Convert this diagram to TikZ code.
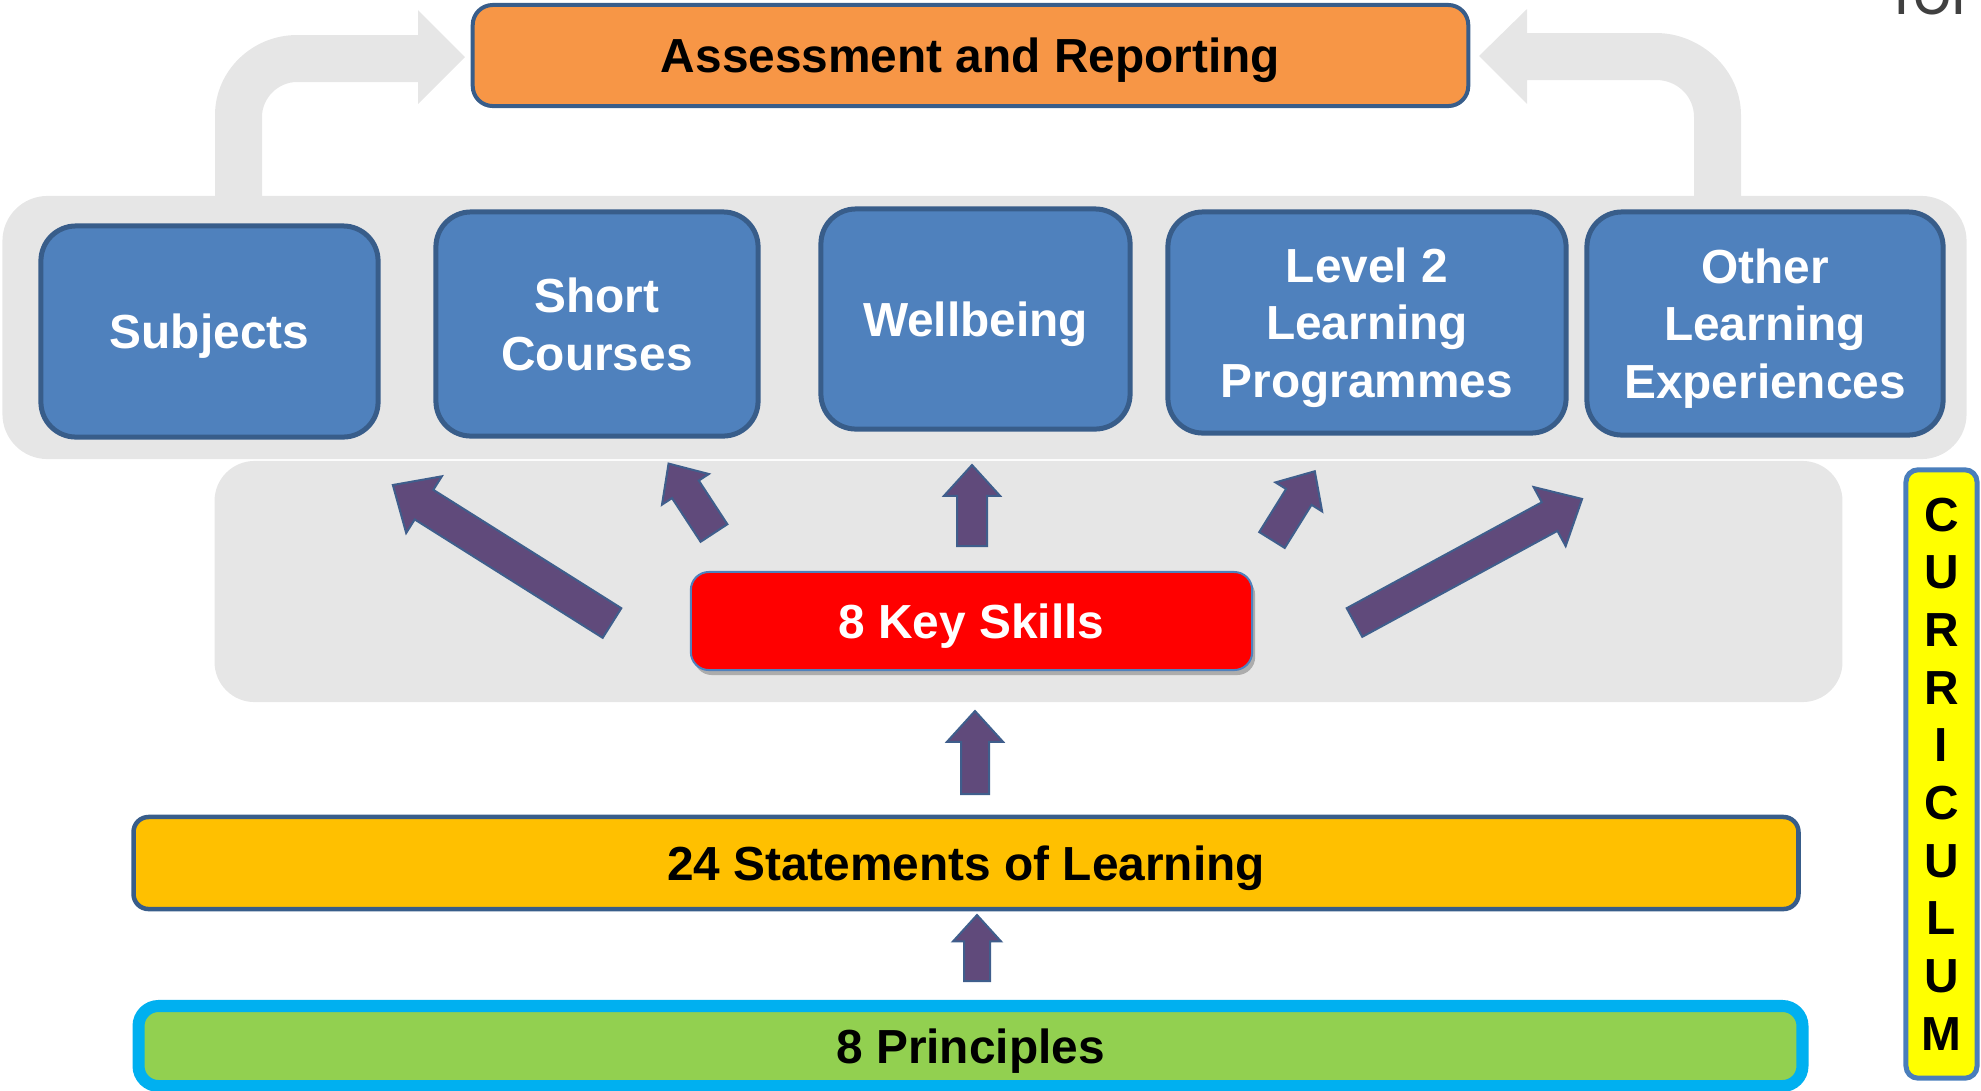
\documentclass[tikz,border=0pt]{standalone}
\usepackage{fontspec}
\setmainfont{Liberation Sans}
\newfontfamily\forfont{Poppins}
\usetikzlibrary{shadows}
\definecolor{grayp}{HTML}{E6E6E6}
\definecolor{bluefill}{HTML}{4F81BD}
\definecolor{blueborder}{HTML}{385D8A}
\definecolor{orangef}{HTML}{F79646}
\definecolor{statf}{HTML}{FFC000}
\definecolor{greenf}{HTML}{92D050}
\definecolor{cyanb}{HTML}{00B0F0}
\definecolor{yellowf}{HTML}{FFFF00}
\definecolor{currb}{HTML}{4A7EBB}
\definecolor{purplef}{HTML}{604A7B}
\definecolor{purpleb}{HTML}{3F5E8C}
\definecolor{forgray}{HTML}{404040}
\newcommand{\boxfont}{\fontsize{13.6}{16.3}\selectfont\bfseries}
\newcommand{\currfont}{\fontsize{13.6}{16.4}\selectfont\bfseries}
\tikzset{
  panel/.style={fill=grayp, draw=none, rounded corners=0.45cm, inner sep=0},
  bluebox/.style={fill=bluefill, draw=blueborder, line width=0.05cm, rounded corners=0.35cm,
    text=white, align=center, font=\boxfont, inner sep=0, text depth=0pt},
  assessbox/.style={fill=orangef, draw=blueborder, line width=0.04cm, rounded corners=0.2cm,
    text=black, font=\boxfont, inner sep=0, text depth=0pt},
  keybox/.style={fill=red, draw=bluefill, line width=0.02cm, rounded corners=0.18cm,
    text=white, font=\boxfont, inner sep=0, text depth=0pt,
    drop shadow={shadow xshift=0.03cm, shadow yshift=-0.05cm, opacity=0.45, fill=black!60}},
  statbox/.style={fill=statf, draw=blueborder, line width=0.045cm, rounded corners=0.15cm,
    text=black, font=\boxfont, inner sep=0, text depth=0pt},
  princbox/.style={fill=greenf, draw=cyanb, line width=0.12cm, rounded corners=0.2cm,
    text=black, font=\boxfont, inner sep=0, text depth=0pt},
  currbox/.style={fill=yellowf, draw=currb, line width=0.05cm, rounded corners=0.12cm,
    text=black, align=center, font=\currfont, inner sep=0},
  purplearrow/.style={fill=purplef, draw=purpleb, line width=0.02cm, line join=miter},
  bentarrow/.style={fill=grayp, draw=none}
}
\newcommand{\blockarr}[6]{%
  \begin{scope}[shift={(#1,#2)}, rotate=#3]
    \path[purplearrow] (0,-#5) -- ({#4-1.1*#6},-#5) -- ({#4-1.1*#6},-#6) -- (#4,0)
      -- ({#4-1.1*#6},#6) -- ({#4-1.1*#6},#5) -- (0,#5) -- cycle;
  \end{scope}}
\begin{document}
\begin{tikzpicture}[x=0.01cm, y=-0.01cm]
\useasboundingbox (0,0) rectangle (1981,1090);
% background panels
\node[panel, minimum width=19.63cm, minimum height=2.63cm] (toppanel) at (984.5,327.5) {};
\node[panel, rounded corners=0.4cm, minimum width=16.27cm, minimum height=2.41cm] (lowpanel) at (1028.5,581.5) {};
% bent grey arrows
\path[bentarrow] (215,200) -- (215,115) .. controls (215,71) and (252,35) .. (297,35)
  -- (418,35) -- (418,10) -- (465,57) -- (418,104) -- (418,82) -- (297,82)
  .. controls (278,82) and (262,98) .. (262,117) -- (262,200) -- cycle;
\path[bentarrow] (1741,200) -- (1741,115) .. controls (1741,70) and (1701,33) .. (1656,33)
  -- (1527,33) -- (1527,9) -- (1479,56) -- (1527,104) -- (1527,80) -- (1656,80)
  .. controls (1677,80) and (1694,96) .. (1694,117) -- (1694,200) -- cycle;
% partial text top right
\node[anchor=base west, font=\forfont\fontsize{17}{17}\selectfont, text=forgray, inner sep=0] (fortext) at (1893,14) {for};
% boxes
\node[assessbox, minimum width=9.95cm, minimum height=1.01cm] (assess) at (970.5,55.5) {Assessment and Reporting};
\node[bluebox, minimum width=3.37cm, minimum height=2.11cm] (subjects) at (209.5,331.5) {Subjects};
\node[bluebox, minimum width=3.22cm, minimum height=2.24cm] (short) at (597,324) {Short\\Courses};
\node[bluebox, minimum width=3.09cm, minimum height=2.20cm] (wellbeing) at (975.5,319) {Wellbeing};
\node[bluebox, minimum width=3.98cm, minimum height=2.21cm] (level) at (1367,322.5) {Level 2\\Learning\\Programmes};
\node[bluebox, minimum width=3.56cm, minimum height=2.23cm] (other) at (1765,323.5) {Other\\Learning\\Experiences};
\node[keybox, minimum width=5.61cm, minimum height=0.98cm] (keyskills) at (971.5,621) {8 Key Skills};
\node[statbox, minimum width=16.64cm, minimum height=0.92cm] (statements) at (966,863) {24 Statements of Learning};
\node[princbox, minimum width=16.63cm, minimum height=0.80cm] (principles) at (970.5,1046) {8 Principles};
\node[currbox, minimum width=0.71cm, minimum height=6.08cm] (curr) at (1941.5,774) {C\\U\\R\\R\\I\\C\\U\\L\\U\\M};
% purple block arrows
\blockarr{612}{623}{147.8}{259}{17.5}{33.5}
\blockarr{714}{533}{123.2}{83}{16}{28}
\blockarr{972}{546}{90}{81}{15}{28}
\blockarr{1272}{540}{58.1}{81}{15}{27.5}
\blockarr{1354.5}{622.5}{28.5}{259}{16.3}{33.6}
\blockarr{975}{794}{90}{83}{14}{28}
\blockarr{977}{981}{90}{66}{13}{24}
\end{tikzpicture}
\end{document}
